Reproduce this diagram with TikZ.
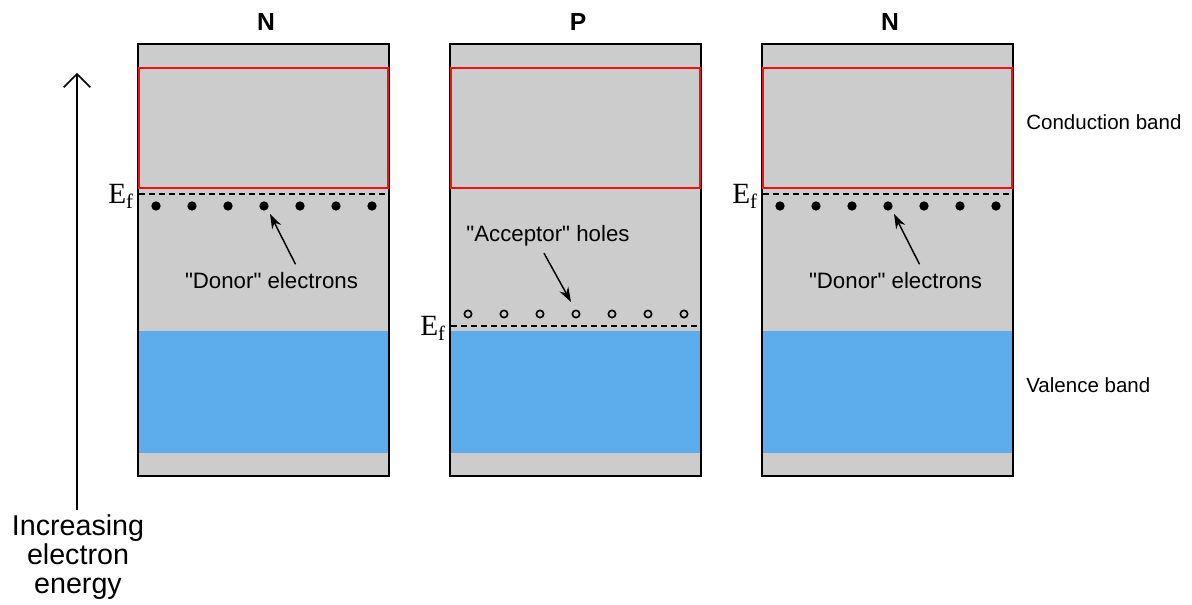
\documentclass[tikz,border=0pt]{standalone}
\usepackage{fontspec}
\setmainfont{Liberation Sans}[Ligatures=TeXOff]
\newfontfamily\efont{Liberation Serif}
\usetikzlibrary{arrows.meta,calc}
\definecolor{bandgray}{HTML}{CCCCCC}
\definecolor{valblue}{HTML}{5DADEC}
\definecolor{condred}{HTML}{EE1111}
\begin{document}
\begin{tikzpicture}[x=0.75pt,y=-0.75pt,
  crystal/.style={draw=black,line width=1.5pt,fill=bandgray},
  condband/.style={draw=condred,line width=1.4pt},
  valband/.style={fill=valblue},
  fermi/.style={line width=1.4pt,dash pattern=on 4.5pt off 3pt},
  electron/.style={circle,fill=black,inner sep=0pt,minimum size=7pt},
  hole/.style={circle,draw=black,line width=1.2pt,inner sep=0pt,minimum size=5.5pt},
  lbl/.style={font=\fontsize{16.7}{19}\selectfont,inner sep=1pt,anchor=base},
  sidelbl/.style={font=\fontsize{15.4}{18}\selectfont,anchor=base west,inner sep=0pt},
  head/.style={font=\fontsize{18.5}{20}\selectfont\bfseries,anchor=base},
  eflbl/.style={font=\efont\fontsize{22}{24}\selectfont,anchor=base east,inner sep=0pt},
  pointer/.style={line width=1.1pt,-{Stealth[length=11pt,width=7.5pt]}},
]
\useasboundingbox (0,0) rectangle (1192,605);

% three crystals
\foreach \x/\n in {138/A,450/B,762/C}{
  \path[crystal] (\x,44) rectangle ++(251,432);
  \fill[valband] (\x,331) rectangle ++(251,122);
  \draw[crystal,fill=none] (\x,44) rectangle ++(251,432);
  \draw[condband] (\x+1,68) rectangle ++(249,120);
}

% Fermi levels
\draw[fermi] (139,194) -- (388,194);
\draw[fermi] (451,326) -- (700,326);
\draw[fermi] (763,194) -- (1012,194);

\node[eflbl] (ef1) at (134,204) {E\textsubscript{f}};
\node[eflbl] (ef2) at (446,336) {E\textsubscript{f}};
\node[eflbl] (ef3) at (758,204) {E\textsubscript{f}};

% donor electrons and acceptor holes
\foreach \i in {0,...,6}{
  \node[electron] (da\i) at (156+36*\i,206) {};
  \node[electron] (dc\i) at (780+36*\i,206) {};
  \node[hole] (h\i) at (468+36*\i,314) {};
}

% labels
\node[head] (n1) at (266,31) {N};
\node[head] (p) at (578,31) {P};
\node[head] (n2) at (890,31) {N};

\node[lbl] (don1) at (271.5,289) {"Donor" electrons};
\node[lbl] (don2) at (895.5,289) {"Donor" electrons};
\node[lbl] (acc) at (548,242) {"Acceptor" holes};

\draw[pointer] ($(don1.north)+(24,-7)$) -- ($(da3)+(6,8)$);
\draw[pointer] ($(don2.north)+(24,-7)$) -- ($(dc3)+(6,8)$);
\draw[pointer] ($(acc.south)+(-4,5)$) -- ($(h3)+(-5,-12)$);

\node[sidelbl] (cb) at (1026,130) {Conduction band};
\node[sidelbl] (vb) at (1026,393) {Valence band};

% energy axis
\node[font=\fontsize{21.5}{22}\selectfont,align=center,inner sep=0pt] (energy) at (78,557) {Increasing\\electron\\energy};
\coordinate (top) at (77,73);
\draw[line width=1.1pt,-{Straight Barb[length=10pt,width=20pt,line width=1.1pt]}] (energy.north -| top) ++(0,-4) -- (top);
\end{tikzpicture}
\end{document}
